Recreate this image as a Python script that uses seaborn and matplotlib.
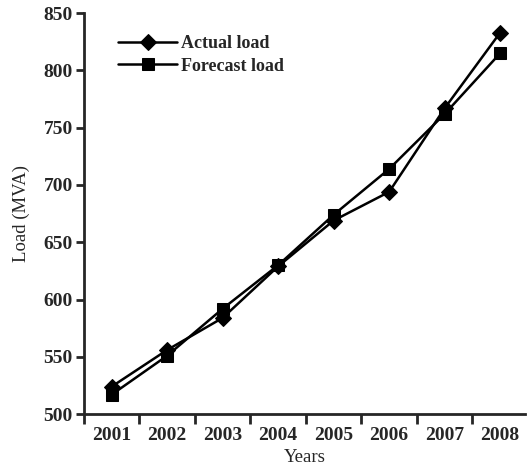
import numpy as np
import pandas as pd
import matplotlib
matplotlib.use('Agg')
import matplotlib.pyplot as plt
import seaborn as sns

# values
years = [2001, 2002, 2003, 2004, 2005, 2006, 2007, 2008]
actual_load = [524, 556, 584, 629, 669, 694, 767, 833]
forecast_load = [517, 551, 592, 630, 674, 714, 762, 815]
series_names = ['Actual load', 'Forecast load']
y_ticks = [500, 550, 600, 650, 700, 750, 800, 850]

df = pd.DataFrame({
    'Years': years * 2,
    'Load': actual_load + forecast_load,
    'Series': [series_names[0]] * len(years) + [series_names[1]] * len(years),
})

sns.set_style('ticks')
plt.rcParams['font.family'] = ['Liberation Serif', 'DejaVu Serif']

fig = plt.figure(figsize=(5.31, 4.69), dpi=100)
ax = fig.add_axes([0.158, 0.117, 0.831, 0.855])

sns.lineplot(data=df, x='Years', y='Load', hue='Series', style='Series',
             markers={'Actual load': 'D', 'Forecast load': 's'},
             dashes=False, palette=['black', 'black'],
             markersize=8, linewidth=1.8, markeredgecolor='black', ax=ax)

ax.set_xlim(2000.53, 2008.45)
ax.set_ylim(500, 850)
ax.set_yticks(y_ticks)
ax.set_xticks(years)
ax.set_xticks([y - 0.5 for y in years], minor=True)
ax.tick_params(axis='x', which='major', length=0, pad=9)
ax.tick_params(axis='x', which='minor', length=7, width=2, direction='out', pad=0)
ax.tick_params(axis='y', length=6, width=2, pad=2)
for lab in ax.get_xticklabels() + ax.get_yticklabels():
    lab.set_fontsize(14)
    lab.set_fontweight('bold')

for side in ['top', 'right']:
    ax.spines[side].set_visible(False)
for side in ['left', 'bottom']:
    ax.spines[side].set_linewidth(2)

ax.set_xlabel('Years', fontsize=13.5, labelpad=4)
ax.set_ylabel('Load (MVA)', fontsize=13.5, labelpad=10)

leg = ax.legend(loc='upper left', bbox_to_anchor=(0.04, 0.985), frameon=False,
                fontsize=13, handlelength=3.3, handletextpad=0.2,
                labelspacing=0.3)
for t in leg.get_texts():
    t.set_fontweight('bold')

plt.savefig('out.png', dpi=100)
plt.close()
